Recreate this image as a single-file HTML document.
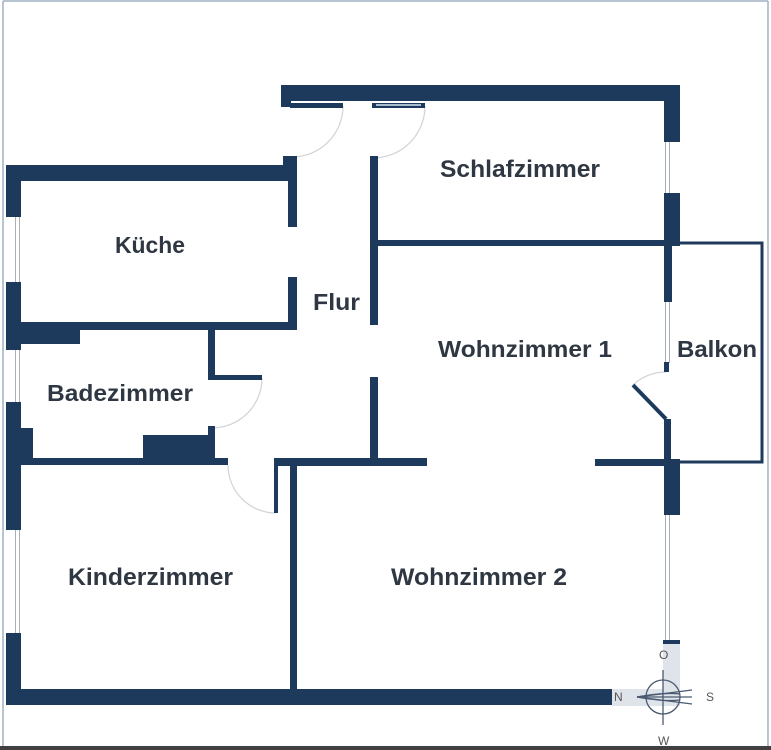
<!DOCTYPE html>
<html><head><meta charset="utf-8"><style>
html,body{margin:0;padding:0;background:#fff;}
svg{display:block;}
text{font-family:"Liberation Sans",sans-serif;font-weight:bold;fill:#2f3742;}
</style></head><body>
<svg width="771" height="750" viewBox="0 0 771 750" xmlns="http://www.w3.org/2000/svg">
<rect x="0" y="0" width="771" height="750" fill="#fff"/>
<!-- frame -->
<line x1="3" y1="1" x2="768" y2="1" stroke="#9fb0c4" stroke-width="1.5"/>
<line x1="3" y1="1" x2="3" y2="747" stroke="#9fb0c4" stroke-width="1.5"/>
<line x1="768" y1="1" x2="768" y2="747" stroke="#9fb0c4" stroke-width="1.5"/>
<rect x="0" y="746" width="771" height="4" fill="#404040"/>

<!-- compass band -->
<rect x="663" y="644" width="17" height="62" fill="#dfe4ea"/>
<rect x="612" y="689" width="68" height="17" fill="#dfe4ea"/>

<!-- door arcs -->
<g fill="none" stroke="#cfd3d8" stroke-width="1.2">
<path d="M343 106 A51 51 0 0 1 292 157"/>
<path d="M425 106 A52 52 0 0 1 373 158"/>
<path d="M262 378 A50 50 0 0 1 212 428"/>
<path d="M228 465 A48 48 0 0 0 276 513"/>
<path d="M633 385 A47 47 0 0 1 666 372"/>
</g>

<!-- windows -->
<g stroke="#a9afb6" stroke-width="1">
<line x1="15.5" y1="217" x2="15.5" y2="282"/><line x1="19.5" y1="217" x2="19.5" y2="282"/>
<line x1="15.5" y1="350" x2="15.5" y2="402"/><line x1="19.5" y1="350" x2="19.5" y2="402"/>
<line x1="15.5" y1="530" x2="15.5" y2="633"/><line x1="19.5" y1="530" x2="19.5" y2="633"/>
<line x1="665.5" y1="142" x2="665.5" y2="193"/><line x1="669.5" y1="142" x2="669.5" y2="193"/>
<line x1="665.5" y1="302" x2="665.5" y2="363"/><line x1="669.5" y1="302" x2="669.5" y2="363"/>
<line x1="665.5" y1="515" x2="665.5" y2="640"/><line x1="669.5" y1="515" x2="669.5" y2="640"/>
</g>

<g fill="#1d3a5c">
<!-- top wall -->
<rect x="281" y="85" width="399" height="16"/>
<rect x="281" y="85" width="10" height="22"/>
<rect x="290" y="103" width="53" height="5"/>
<rect x="372" y="103" width="53" height="5"/>
<!-- right side -->
<rect x="664" y="85" width="16" height="57"/>
<rect x="664" y="193" width="16" height="51"/>
<rect x="373" y="240" width="307" height="6"/>
<rect x="664" y="244" width="8" height="58"/>
<rect x="664" y="362" width="5" height="10"/>
<rect x="664" y="419" width="7" height="41"/>
<rect x="664" y="459" width="16" height="56"/>
<rect x="663" y="640" width="17" height="4"/>
<rect x="595" y="459" width="85" height="7"/>
<!-- middle -->
<rect x="275" y="458" width="152" height="8"/>
<rect x="370" y="377" width="8" height="89"/>
<rect x="370" y="156" width="8" height="169"/>
<rect x="274" y="458" width="4" height="55"/>
<rect x="290" y="458" width="7" height="247"/>
<!-- bottom / left -->
<rect x="6" y="689" width="606" height="16"/>
<rect x="6" y="165" width="15" height="52"/>
<rect x="6" y="282" width="15" height="68"/>
<rect x="6" y="402" width="15" height="128"/>
<rect x="6" y="633" width="15" height="72"/>
<!-- kitchen -->
<rect x="6" y="165" width="291" height="16"/>
<rect x="283" y="156" width="14" height="25"/>
<rect x="288" y="156" width="9" height="71"/>
<rect x="288" y="277" width="9" height="53"/>
<rect x="21" y="322" width="276" height="8"/>
<rect x="21" y="322" width="59" height="22"/>
<!-- bath -->
<rect x="208" y="330" width="7" height="48"/>
<rect x="208" y="375" width="54" height="5"/>
<rect x="208" y="426" width="7" height="39"/>
<rect x="143" y="435" width="70" height="30"/>
<rect x="21" y="428" width="12" height="37"/>
<rect x="21" y="458" width="207" height="7"/>
</g>
<rect x="376" y="104" width="45" height="2" fill="#a9bccf"/>
<line x1="633" y1="385" x2="666" y2="419" stroke="#1d3a5c" stroke-width="4"/>
<polyline points="680,243 762,243 762,462 680,462" fill="none" stroke="#1d3a5c" stroke-width="3"/>

<!-- labels -->
<text x="115" y="253" font-size="23" textLength="70" lengthAdjust="spacingAndGlyphs">Küche</text>
<text x="313" y="310" font-size="23" textLength="47" lengthAdjust="spacingAndGlyphs">Flur</text>
<text x="440" y="177" font-size="24" textLength="160" lengthAdjust="spacingAndGlyphs">Schlafzimmer</text>
<text x="438" y="357" font-size="23" textLength="174" lengthAdjust="spacingAndGlyphs">Wohnzimmer 1</text>
<text x="677" y="357" font-size="23" textLength="80" lengthAdjust="spacingAndGlyphs">Balkon</text>
<text x="47" y="401" font-size="23" textLength="146" lengthAdjust="spacingAndGlyphs">Badezimmer</text>
<text x="68" y="585" font-size="24" textLength="165" lengthAdjust="spacingAndGlyphs">Kinderzimmer</text>
<text x="391" y="585" font-size="24" textLength="176" lengthAdjust="spacingAndGlyphs">Wohnzimmer 2</text>

<!-- compass -->
<g stroke="#4a5a70" stroke-width="1.3" fill="none">
<circle cx="663" cy="697" r="17"/>
<line x1="663" y1="670" x2="663" y2="725"/>
<line x1="637" y1="697" x2="692" y2="690"/>
<line x1="637" y1="697" x2="692" y2="704"/>
<line x1="637" y1="697" x2="692" y2="697"/>
<path d="M637 697 Q665 692 680 694 M637 697 Q665 702 680 700"/>
</g>
<g font-size="12">
<text x="659" y="659" style="font-weight:normal;fill:#555">O</text>
<text x="614" y="701" style="font-weight:normal;fill:#555">N</text>
<text x="706" y="701" style="font-weight:normal;fill:#555">S</text>
<text x="658" y="745" style="font-weight:normal;fill:#555">W</text>
</g>
</svg>
</body></html>
